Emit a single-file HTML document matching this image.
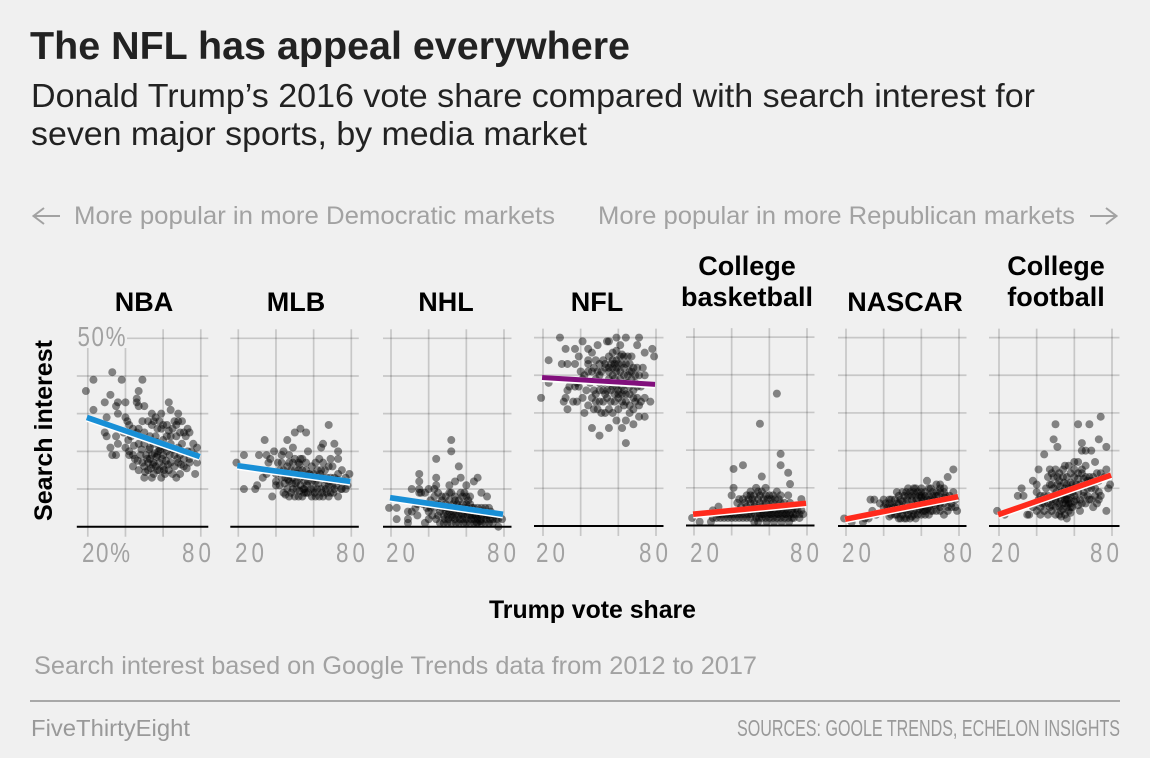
<!DOCTYPE html>
<html lang="en">
<head>
<meta charset="utf-8">
<title>The NFL has appeal everywhere</title>
<style>
html,body{margin:0;padding:0;background:#f0f0f0;}
svg{display:block;font-family:"Liberation Sans",sans-serif;}
</style>
</head>
<body>
<svg id="chart" xmlns="http://www.w3.org/2000/svg" width="1150" height="758" viewBox="0 0 1150 758">
<rect x="0" y="0" width="1150" height="758" fill="#f0f0f0"/>
<text x="30" y="59" font-size="39" font-weight="700" fill="#222" textLength="600" lengthAdjust="spacingAndGlyphs">The NFL has appeal everywhere</text>
<text x="31" y="107" font-size="33" fill="#222" textLength="1004" lengthAdjust="spacingAndGlyphs">Donald Trump’s 2016 vote share compared with search interest for</text>
<text x="31" y="145" font-size="33" fill="#222" textLength="556" lengthAdjust="spacingAndGlyphs">seven major sports, by media market</text>

<path d="M60 216H34M44 208L33.5 216L44 224" fill="none" stroke="#a2a2a2" stroke-width="2"/>
<text x="74" y="224" font-size="25" fill="#a2a2a2" textLength="481" lengthAdjust="spacingAndGlyphs">More popular in more Democratic markets</text>
<text x="598" y="224" font-size="25" fill="#a2a2a2" textLength="477" lengthAdjust="spacingAndGlyphs">More popular in more Republican markets</text>
<path d="M1090 216H1116M1106 208L1116.5 216L1106 224" fill="none" stroke="#a2a2a2" stroke-width="2"/>

<g font-size="27" font-weight="700" fill="#000" text-anchor="middle">
<text x="144" y="311">NBA</text>
<text x="296" y="311">MLB</text>
<text x="446" y="311">NHL</text>
<text x="597" y="311">NFL</text>
<text x="747" y="275">College</text>
<text x="747" y="306">basketball</text>
<text x="905" y="311">NASCAR</text>
<text x="1056" y="275">College</text>
<text x="1056" y="306">football</text>
</g>

<g id="panels"></g>

<text transform="translate(52 521) rotate(-90)" font-size="25" font-weight="700" fill="#000" textLength="181" lengthAdjust="spacingAndGlyphs">Search interest</text>
<text x="489" y="618" font-size="25" font-weight="700" fill="#000" textLength="207" lengthAdjust="spacingAndGlyphs">Trump vote share</text>

<text x="34" y="674" font-size="25" fill="#a2a2a2" textLength="723" lengthAdjust="spacingAndGlyphs">Search interest based on Google Trends data from 2012 to 2017</text>
<rect x="30" y="700" width="1090" height="2" fill="#a8a8a8"/>
<text x="31" y="736" font-size="23" fill="#999" textLength="159" lengthAdjust="spacingAndGlyphs">FiveThirtyEight</text>
<text x="737" y="736" font-size="23" fill="#999" textLength="383" lengthAdjust="spacingAndGlyphs">SOURCES: GOOLE TRENDS, ECHELON INSIGHTS</text>
</svg>

<script>
const sports = ['nba','mlb','nhl','nfl','college-basketball','nascar','college-football'];
const xTicks = [20,40,60,80];
const yTicks = [0,10,20,30,40,50];
const xTickLabelsFirst = ['20%','20','20','20','20','20','20'];
const xTickLabelsLast = ['80','80','80','80','80','80','80'];
const yTopLabel = '50%';

const nbaTrend = [[19.5,29],[79.5,18.6]];
const mlbTrend = [[19.5,16.2],[79.5,12]];
const nhlTrend = [[19.5,7.7],[79.5,3.3]];
const nflTrend = [[19.5,39.4],[79.5,37.6]];
const collegeBasketballTrend = [[19.5,3],[79.5,5.9]];
const nascarTrend = [[19.5,1.8],[79.5,7.8]];
const collegeFootballTrend = [[19.5,3],[79.5,13.5]];

const nbaPoints = [[19,36],[23,39],[33,41],[38,39],[49,39],[47,36],[32,35],[29,33],[23,31],[36,33],[35,32],[40,33],[46,34],[46,33],[47,32],[50,32],[30,29],[36,30],[40,29],[41,28],[63,33],[64,31],[59,30],[68,30],[54,30],[56,29],[52,28],[49,28],[55,28],[58,28],[66,28],[68,28],[70,28],[60,27],[62,27],[42,27],[44,26],[47,26],[54,27],[57,26],[65,26],[73,26],[74,25],[71,25],[69,25],[67,24],[62,24],[59,26],[29,25],[30,24],[35,24],[39,25],[43,24],[46,25],[50,25],[53,24],[56,24],[60,23],[64,24],[72,24],[76,22],[78,21],[32,21],[36,22],[33,19],[35,19],[40,21],[42,20],[44,19],[47,22],[50,22],[53,21],[55,22],[58,21],[61,21],[64,22],[68,21],[70,22],[73,20],[75,20],[77,19],[42,19],[45,18],[48,19],[51,19],[54,19],[57,19],[60,19],[62,20],[66,19],[69,19],[71,18],[74,18],[78,17],[44,16],[47,15],[50,16],[52,17],[55,17],[58,17],[60,16],[64,17],[66,16],[68,17],[71,16],[74,17],[77,14],[52,15],[55,14],[57,15],[59,13],[61,14],[63,15],[65,14],[67,13],[69,14],[54,13],[50,13],[56,16],[53,18],[49,17],[58,15],[52.5,20.5],[55.5,19.5],[57.5,20],[51.5,18],[54.5,16.5],[56.5,18.5],[59.5,18],[61.5,17.5],[58.5,20.5],[63.5,19],[65.5,20.5],[67.5,18],[69.5,16.5],[48.5,20.5],[46.5,17.5],[50.5,14.5],[53.5,15.5],[60.5,15],[62.5,16.5],[72.5,15.5],[44.5,21.5],[41.5,23],[56.5,22.5],[63,25.5],[67,27]];
const mlbPoints = [[19,17],[23,19],[34,23],[31,19],[35,19],[39,20],[44,20],[46,23],[49,21],[50,25],[53,26],[56,25],[68,27],[65,22],[64,21],[71,22],[73,20],[69,18],[73,18],[57,20],[23,10],[29,10],[30,11],[38,8],[79,14],[40,12],[42,11],[44,9],[46,10],[48,9],[50,8],[52,8],[54,8],[47,8],[49,10],[51,10],[53,11],[55,10],[57,9],[59,8],[61,8],[63,8],[65,8],[67,9],[69,9],[71,10],[73,8],[75,10],[77,10],[78,11],[60,10],[62,10],[64,10],[66,11],[68,11],[70,11],[72,11],[74,12],[76,12],[43,13],[45,13],[47,12],[49,13],[51,12],[53,13],[55,12],[57,12],[59,12],[61,12],[63,13],[65,13],[67,13],[69,13],[71,13],[73,14],[40,14],[42,15],[44,15],[46,16],[48,15],[50,15],[52,15],[54,15],[56,15],[58,14],[60,14],[62,15],[64,15],[66,15],[68,16],[70,16],[36,17],[35,14],[33,13],[37,18],[41,17],[43,17],[47,17],[49,17],[52,17],[54,18],[56,17],[59,16],[61,17],[63,18],[65,17],[43,19],[47,19],[50,18],[53,18],[40,11],[56,9],[68,8],[75,15],[77,13],[50.5,11.5],[52.5,9.5],[54.5,10],[56.5,11],[58.5,10],[60.5,9],[62.5,11.5],[64.5,9],[66.5,10],[68.5,12],[48.5,11.5],[46.5,12.5],[44.5,11.5],[51.5,14],[54.5,13.5],[57.5,14],[60.5,13],[63.5,14],[66.5,12.5],[52.5,16.5],[70.5,9],[72.5,12.5],[74.5,10],[45,8.5],[55,9]];
const nhlPoints = [[19,5],[23,5],[23,2],[29,2],[29,1],[35,14],[35,12],[35,10],[31,10],[36,9],[44,18],[52,23],[52,20],[56,16],[44,13],[44,11],[57,13],[66,13],[64,12],[60,11],[51,11],[54,12],[40,10],[43,10],[68,9],[71,8],[38,1],[77,0],[79,2],[31,4],[34,3],[29,4],[40,4],[42,3],[44,2],[46,4],[48,1],[50,1],[52,1],[54,2],[56,1],[58,3],[60,1],[62,1],[64,1],[66,1],[68,2],[70,1],[72,1],[74,2],[76,2],[45,6],[47,5],[49,6],[51,4],[53,4],[55,4],[57,5],[59,4],[61,4],[63,3],[65,3],[67,4],[69,4],[71,3],[73,4],[75,3],[77,2],[41,7],[43,8],[45,9],[47,8],[49,8],[51,9],[52,9],[54,7],[56,7],[58,8],[60,8],[62,6],[64,5],[66,5],[68,5],[70,5],[72,5],[39,5],[37,6],[34,6],[33,5],[35,9],[38,9],[44,6],[48,3],[50,3],[52,3],[54,3],[56,3],[58,2],[60,2],[62,3],[64,2],[66,2],[68,3],[70,3],[72,3],[74,1],[50,5],[53,6],[55,6],[58,6],[60,6],[47,7],[49,4],[51,7],[57,9],[61,7],[40,2],[46,1],[68,1],[62,8],[59,9],[48.5,2],[50.5,2],[52.5,2.5],[54.5,1],[56.5,2],[58.5,1],[60.5,3],[62.5,2],[64.5,3],[66.5,3],[68.5,4],[70.5,2],[72.5,2],[49.5,5],[52,5],[55,5],[57.5,3.5],[60,5],[63,5],[65.5,1],[67.5,1.5],[45,3],[43,5],[41,5],[54,8]];
const nflPoints = [[29,50],[41,49],[32,47],[37,47],[44,47],[46,46],[39,45],[23,44],[30,43],[33,43],[37,43],[44,44],[44,43],[49,48],[54,49],[55,49],[59,50],[64,50],[71,50],[61,48],[70,48],[78,47],[74,46],[79,45],[73,42],[74,40],[77,33],[74,34],[19,34],[23,38],[32,34],[31,33],[33,31],[42,30],[46,26],[50,24],[55,26],[62,26],[64,28],[59,28],[68,27],[64,22],[71,29],[74,29],[66,30],[55,45],[57,44],[59,44],[61,45],[63,45],[65,45],[67,45],[52,44],[50,43],[53,43],[56,43],[58,43],[60,43],[62,43],[64,43],[66,43],[68,42],[70,42],[48,44],[47,42],[49,41],[51,41],[53,42],[55,41],[57,40],[59,41],[61,41],[63,40],[65,40],[67,41],[69,40],[71,40],[40,41],[42,40],[44,41],[46,41],[41,39],[38,38],[34,37],[33,36],[37,37],[39,37],[48,39],[50,38],[52,38],[54,38],[56,38],[58,39],[60,38],[62,37],[64,38],[66,37],[68,36],[70,37],[72,37],[47,36],[50,36],[52,36],[54,36],[56,36],[58,35],[60,35],[62,35],[64,35],[66,35],[68,34],[70,34],[72,33],[41,34],[36,33],[38,33],[46,34],[48,33],[50,33],[52,33],[54,34],[56,33],[58,33],[60,34],[62,33],[64,33],[66,32],[69,33],[71,32],[44,32],[47,31],[49,31],[51,30],[53,30],[55,31],[57,30],[60,31],[63,32],[68,31],[45,38],[43,36],[57,46],[59,46.5],[55,42],[57,42],[59,42],[61,39],[63,42],[65,38],[57,37],[55,39],[53,35],[59,37],[66,41],[62,45.5],[63,36],[60,36],[67,39],[69,38],[50,40],[48,35]];
const collegeBasketballPoints = [[19,2],[23,1],[29,1],[33,5],[30,4],[41,15],[46,16],[41,10],[40,8],[55,27],[64,35],[66,19],[66,16],[70,14],[56,13],[71,11],[53,10],[58,10],[64,9],[50,8],[70,8],[77,7],[54,9],[56,9],[44,7],[46,7],[49,7],[51,7],[52,6],[54,7],[57,7],[59,7],[61,7],[63,7],[65,7],[68,6],[71,6],[73,5],[50,6],[30,2],[32,2],[34,2],[36,2],[38,2],[40,2],[42,2],[44,2],[46,2],[48,2],[50,2],[52,1],[54,1],[56,2],[58,2],[60,2],[62,2],[64,2],[66,2],[68,2],[70,2],[72,2],[74,3],[76,3],[78,3],[44,4],[46,4],[48,4],[50,4],[52,4],[54,4],[56,4],[58,4],[60,4],[62,4],[64,4],[66,4],[68,4],[70,4],[72,4],[53,2],[55,3],[57,3],[59,3],[61,3],[63,3],[65,3],[67,3],[69,3],[71,3],[73,2],[75,4],[77,4],[49,3],[47,3],[45,3],[43,3],[41,3],[39,3],[37,3],[35,3],[33,3],[52,8],[55,8],[58,8],[60,8],[62,8],[66,8],[48,8],[50,9],[58,6],[62,6],[66,6],[55,6],[47,6],[43,6],[50.5,3],[52.5,3],[54.5,2],[56.5,3],[58.5,1],[60.5,3],[62.5,1],[64.5,3],[66.5,1],[68.5,3],[70.5,1],[72.5,3],[55.5,5],[57.5,5],[60,5],[62,5],[64,5],[66,5],[68,5],[70,5],[48,5],[45,5],[52,5],[74,4.5],[76,2]];
const nascarPoints = [[19,2],[23,1],[29,1],[33,7],[35,7],[34,4],[40,7],[43,7],[77,15],[74,13],[63,12],[70,11],[64,10],[53,10],[57,10],[77,9],[79,4],[70,10],[40,5],[42,4],[44,3],[46,3],[48,2],[50,3],[52,2],[54,2],[56,3],[58,3],[60,5],[62,5],[64,5],[66,4],[68,4],[70,4],[72,3],[74,4],[76,5],[78,5],[38,6],[36,3],[32,2],[30,2],[41,6],[43,6],[45,5],[47,6],[49,7],[51,8],[53,8],[55,8],[57,8],[59,8],[61,7],[63,7],[65,7],[67,7],[69,8],[71,7],[73,8],[75,8],[44,7],[46,7],[48,8],[50,5],[52,6],[54,5],[56,6],[58,6],[60,6],[62,8],[64,8],[66,9],[68,9],[70,9],[72,9],[74,7],[47,9],[50,9],[52,9],[54,9],[56,9],[58,9],[60,9],[62,9],[48,4],[50,4],[52,4],[54,4],[56,4],[58,4],[60,3],[62,3],[64,3],[66,6],[68,6],[70,6],[72,6],[74,5],[76,6],[78,7],[44,5],[46,5],[42,5],[68,11],[65,10],[60,10],[56,10],[72,10],[48,6],[62,4],[50,6.5],[52.5,7],[55,7],[57.5,7],[60,7.5],[62.5,6],[65,6],[67.5,5.5],[70,5],[72.5,7.5],[47,3],[49,2],[51,2],[53,3],[55,2.5],[57,2],[59,4.5],[61,4],[63,4.5],[65,4],[68,8],[66,8],[60,8],[45,4],[43,2.5]];
const collegeFootballPoints = [[19,4],[23,3],[30,8],[32,10],[33,8],[38,12],[40,11],[41,15],[44,19],[49,23],[50,27],[51,21],[62,27],[68,27],[74,29],[73,23],[77,21],[64,22],[64,20],[66,20],[69,20],[71,17],[77,15],[78,10],[79,11],[77,4],[56,2],[63,4],[35,3],[36,3],[38,5],[40,4],[42,5],[44,4],[46,6],[48,4],[50,3],[52,3],[54,6],[56,5],[58,6],[44,8],[46,8],[48,7],[50,7],[52,6],[54,8],[56,8],[58,8],[60,8],[62,9],[64,6],[66,6],[68,7],[70,5],[72,6],[74,8],[40,9],[42,8],[45,10],[47,11],[49,10],[51,11],[53,9],[55,10],[57,10],[59,11],[61,11],[63,11],[65,9],[67,10],[69,10],[71,10],[73,9],[46,13],[48,14],[50,15],[52,14],[54,13],[56,13],[58,14],[60,13],[62,14],[64,14],[66,13],[68,13],[70,13],[72,14],[74,14],[76,13],[47,15],[49,13],[51,13],[54,15],[55,16],[57,16],[60,17],[62,17],[64,15],[66,16],[52,12],[56,11],[60,10],[50,5],[53,4],[55,3],[57,4],[59,5],[47,5],[43,6],[41,7],[49,8],[51,8],[53,7],[55,7],[57,7],[59,9],[61,7],[63,7],[65,8],[67,8],[69,7],[71,8],[73,7],[48,11],[50,6.5],[52,5],[54,4.5],[55.5,6],[57,6],[58,3.5],[53,2.5],[50.5,9],[52.5,10.5],[54.5,11.5],[56,7],[58,5],[60,6.5],[62,5.5],[65,12.5],[67,12],[69,12],[62,12.5],[60,15],[58,11.5],[48,5.5],[46,3],[44,6],[42,3],[73,12]];

const allPoints = [nbaPoints,mlbPoints,nhlPoints,nflPoints,collegeBasketballPoints,nascarPoints,collegeFootballPoints];
const allTrends = [nbaTrend,mlbTrend,nhlTrend,nflTrend,collegeBasketballTrend,nascarTrend,collegeFootballTrend];
const trendColors = ['#188fd6','#188fd6','#188fd6','#810f7c','#ff2a1c','#ff2a1c','#ff2a1c'];

/* panel layout (pixels), separate from the data */
const panelOrigin = [87.8,238.3,391,543,694,846,999];
const panelLeftPad = [11,8,8,9,8,8,10];
const panelBase = [526.7,526.7,526.7,526,525.5,526,526];
const firstLabelStart = [82,235,386,536,690,842,991];
const lastLabelStart = [182,336,487,639,790,943,1090];

const svgNS = 'http://www.w3.org/2000/svg';
const root = document.getElementById('panels');
function make(parent, tag, attrs, text){
  const el = document.createElementNS(svgNS, tag);
  for (const k in attrs) el.setAttribute(k, attrs[k]);
  if (text !== undefined) el.textContent = text;
  parent.appendChild(el);
  return el;
}
function xScale(i, v){ return panelOrigin[i] + (v - 20) * 113 / 60; }
function yScale(i, v){ return panelBase[i] - v * 188.4 / 50; }
function tickText(parent, x, y, text){
  const spacing = text.length > 2 ? 2 : 5;
  return make(parent, 'text', {transform:'translate(' + x + ' ' + y + ') scale(0.8 1)', 'font-size':28, 'letter-spacing':spacing, fill:'#a2a2a2'}, text);
}

sports.forEach(function(sport, i){
  const g = make(root, 'g', {});
  
  
  const left = panelOrigin[i] - panelLeftPad[i];
  const right = panelOrigin[i] + 120.5;

  xTicks.forEach(function(t){
    const top = (i === 0 && t <= 40) ? 348 : yScale(i, 50) - 9;
    const line = make(g, 'line', {x1:xScale(i,t), x2:xScale(i,t), y1:top, y2:panelBase[i]+10, stroke:'#000', 'stroke-opacity':0.17, 'stroke-width':1.7});
    
    
  });
  yTicks.slice(1).forEach(function(t){
    const x1 = (i === 0 && t === 50) ? 127 : left;
    const line = make(g, 'line', {x1:x1, x2:right, y1:yScale(i,t), y2:yScale(i,t), stroke:'#000', 'stroke-opacity':0.17, 'stroke-width':1.7});
    
    
  });

  allPoints[i].forEach(function(p){
    const dot = make(g, 'circle', {cx:xScale(i,p[0]), cy:yScale(i,p[1]), r:4, fill:'#000', 'fill-opacity':0.46});
    
    
  });

  const t = allTrends[i];
  const halo = make(g, 'line', {x1:xScale(i,t[0][0]), y1:yScale(i,t[0][1])+0.8, x2:xScale(i,t[1][0]), y2:yScale(i,t[1][1])+0.8, stroke:'#fff', 'stroke-width':7});
  
  
  const trend = make(g, 'line', {x1:xScale(i,t[0][0]), y1:yScale(i,t[0][1]), x2:xScale(i,t[1][0]), y2:yScale(i,t[1][1]), stroke:trendColors[i], 'stroke-width':i === 3 ? 5 : 5.6});
  
  

  const base = make(g, 'line', {x1:left, x2:right, y1:panelBase[i], y2:panelBase[i], stroke:'#000', 'stroke-width':2});
  
  

  const first = tickText(g, firstLabelStart[i], 562, xTickLabelsFirst[i]);
  
  
  const last = tickText(g, lastLabelStart[i], 562, xTickLabelsLast[i]);
  
  
});

const topLabel = tickText(root, 77.5, 346, yTopLabel);


</script>
</body>
</html>
